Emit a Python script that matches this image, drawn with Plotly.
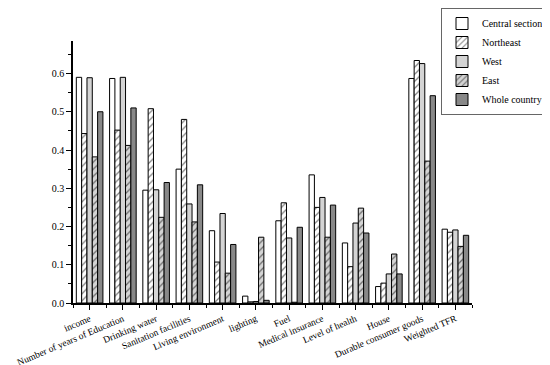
import plotly.graph_objects as go

categories = ["income", "Number of years of Education", "Drinking water", "Sanitation facilities",
              "Living environment", "lighting", "Fuel", "Medical insurance", "Level of health",
              "House", "Durable consumer goods", "Weighted TFR"]

central = [0.590, 0.587, 0.295, 0.350, 0.189, 0.018, 0.215, 0.335, 0.157, 0.043, 0.587, 0.193]
northeast = [0.443, 0.452, 0.508, 0.480, 0.107, 0.003, 0.262, 0.250, 0.095, 0.052, 0.634, 0.185]
west = [0.589, 0.590, 0.296, 0.259, 0.234, 0.004, 0.170, 0.276, 0.209, 0.076, 0.626, 0.191]
east = [0.382, 0.412, 0.224, 0.212, 0.078, 0.172, 0.002, 0.172, 0.248, 0.128, 0.371, 0.148]
whole = [0.500, 0.510, 0.315, 0.309, 0.153, 0.007, 0.198, 0.256, 0.183, 0.076, 0.542, 0.177]

series = [
    ("Central section", central, "white", ""),
    ("Northeast", northeast, "white", "/"),
    ("West", west, "#d4d4d4", ""),
    ("East", east, "#d4d4d4", "/"),
    ("Whole country", whole, "#888888", ""),
]

x_idx = list(range(len(categories)))
fig = go.Figure()
for name, vals, color, pat in series:
    fig.add_trace(go.Bar(
        name=name, x=x_idx, y=vals,
        marker=dict(color=color, line=dict(color="black", width=1),
                    pattern=dict(shape=pat, fgcolor="black", size=5, solidity=0.25)),
    ))

font = "Liberation Serif, Times New Roman, Times, serif"
# page has an 8px body margin, so the figure is offset by (8, 8)
fig.update_layout(
    width=550, height=365,
    margin=dict(l=65, r=86, t=33, b=70, autoexpand=False),
    paper_bgcolor="white", plot_bgcolor="white",
    barmode="group", bargap=0.2, bargroupgap=0,
    font=dict(family=font, size=10, color="black"),
    showlegend=True,
    legend=dict(x=541 / 550, y=1, xref="container", yref="container",
                xanchor="right", yanchor="top",
                bordercolor="#666666", borderwidth=1, bgcolor="white",
                font=dict(family=font, size=10, color="black"),
                tracegroupgap=0, itemwidth=30),
)
fig.update_xaxes(
    range=[-0.5, 11.5], tickmode="array", tickvals=x_idx, ticktext=categories,
    tickangle=-23, ticks="outside", ticklen=5, tickwidth=1, tickcolor="black",
    showline=True, linecolor="black", linewidth=1.5, showgrid=False, zeroline=False,
    automargin=False, ticklabeloverflow="allow",
    minor=dict(tickmode="array", tickvals=[i + 0.5 for i in range(-1, 12)], ticks="outside",
               ticklen=3, tickcolor="black", showgrid=False),
    tickfont=dict(family=font, size=9.5),
)
fig.update_yaxes(
    range=[0, 0.685], tickmode="array", tickvals=[0, 0.1, 0.2, 0.3, 0.4, 0.5, 0.6],
    ticktext=["0.0", "0.1", "0.2", "0.3", "0.4", "0.5", "0.6"],
    ticks="outside", ticklen=5, tickwidth=1, tickcolor="black",
    showline=True, linecolor="black", linewidth=1.5, showgrid=False, zeroline=False,
    automargin=False,
    minor=dict(dtick=0.05, ticks="outside", ticklen=3, tickcolor="black", showgrid=False),
    tickfont=dict(family=font, size=10),
)
fig.write_html("out.html")
